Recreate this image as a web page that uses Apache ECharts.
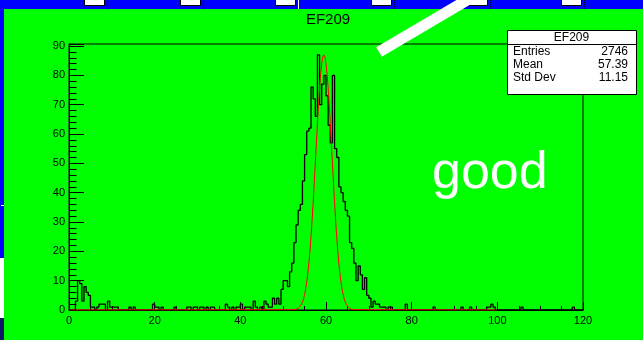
<!DOCTYPE html>
<html>
<head>
<meta charset="utf-8">
<title>EF209</title>
<script src="https://cdn.jsdelivr.net/npm/echarts@6/dist/echarts.min.js"></script>
<style>
  html, body { margin: 0; padding: 0; background: #00ff00; }
  #chart { width: 643px; height: 340px; }
</style>
</head>
<body>
<div id="chart"></div>
<script>
// Histogram EF209: 240 bins of width 0.5 from 0 to 120
const histTitle = 'EF209';
const binLow = 0;
const binWidth = 0.5;
const binCounts = [
  0, 0, 0, 3, 10, 9, 3, 8, 6, 5,   1, 1, 0, 1, 2, 2, 2, 0, 3, 1,
  1, 1, 1, 0, 0, 0, 0, 0, 1, 0,    1, 0, 0, 0, 0, 0, 0, 0, 0, 2,
  1, 1, 0, 1, 0, 0, 0, 0, 0, 1,    0, 0, 0, 0, 0, 1, 1, 0, 1, 1,
  0, 1, 1, 0, 1, 0, 1, 1, 0, 0,    0, 0, 0, 2, 1, 0, 1, 0, 1, 1,
  2, 0, 1, 1, 1, 0, 3, 1, 0, 1,    0, 3, 2, 1, 1, 4, 2, 4, 2, 7,
  10, 10, 8, 13, 16, 23, 29, 34, 36, 44,   53, 61, 62, 76, 72, 66, 87, 70, 77, 80,
  73, 63, 57, 80, 55, 52, 42, 40, 37, 34,  32, 23, 21, 16, 10, 15, 12, 7, 11, 5,
  4, 1, 3, 2, 2, 1, 1, 1, 0, 1,    1, 0, 0, 0, 0, 0, 0, 2, 0, 0,
  0, 0, 0, 0, 0, 0, 0, 0, 0, 0,    1, 0, 0, 0, 0, 0, 0, 0, 0, 0,
  0, 0, 0, 1, 0, 0, 0, 1, 0, 0,    0, 0, 0, 0, 0, 1, 1, 2, 1, 0,
  0, 0, 0, 0, 0, 0, 0, 0, 0, 0,    0, 1, 0, 0, 0, 0, 0, 0, 0, 0,
  0, 0, 0, 0, 0, 0, 0, 0, 0, 0,    0, 0, 0, 0, 0, 1, 0, 0, 0, 0
];

// Gaussian fit, sampled (drawn over 0..100)
const fitX = [0, 52.5, 53, 53.5, 54, 54.5,
  54.75, 55, 55.25, 55.5, 55.75, 56, 56.25, 56.5, 56.75, 57,
  57.25, 57.5, 57.75, 58, 58.25, 58.5, 58.75, 59, 59.25, 59.5,
  59.75, 60, 60.25, 60.5, 60.75, 61, 61.25, 61.5, 61.75, 62,
  62.25, 62.5, 62.75, 63, 63.25, 63.5, 63.75, 64, 64.25,
  64.5, 65, 65.5, 66, 66.5, 100];
const fitY = [0, 0.1, 0.25, 0.6, 1.3, 2.7,
  3.8, 5.3, 7.1, 9.5, 12.4, 15.9, 20.1, 25.0, 30.5, 36.6,
  43.2, 50.0, 56.9, 63.7, 70.1, 75.8, 80.5, 84.0, 86.2, 87.0,
  86.2, 84.0, 80.5, 75.8, 70.1, 63.7, 56.9, 50.0, 43.2, 36.6,
  30.5, 25.0, 20.1, 15.9, 12.4, 9.5, 7.1, 5.3, 3.8,
  2.7, 1.3, 0.6, 0.25, 0.1, 0];

// Statistics box
const statLabels = ['Entries', 'Mean', 'Std Dev'];
const statValues = ['2746', '57.39', '11.15'];

// Axis ranges
const xMin = 0, xMax = 120, xStep = 20;
const yMin = 0, yMax = 90.7, yStep = 10;

const overlayText = 'good';

// Step outline points: left edge of each bin, plus closing right edge
const histPoints = binCounts.map((c, i) => [binLow + i * binWidth, c]);
histPoints.push([binLow + binCounts.length * binWidth, binCounts[binCounts.length - 1]]);

const fitPoints = fitX.map((x, i) => [x, fitY[i]]);

const FONT = '"Liberation Sans", Arial, Helvetica, sans-serif';

// Decorations of the canvas around the pad
const topMarkerX = [84, 180, 275, 371, 467, 561];
const graphics = [];
graphics.push({ type: 'rect', z: 50, shape: { x: 0, y: 0, width: 643, height: 9 }, style: { fill: '#0000ff' } });
graphics.push({ type: 'rect', z: 50, shape: { x: 0, y: 0, width: 4, height: 258 }, style: { fill: '#0000ff' } });
graphics.push({ type: 'rect', z: 50, shape: { x: 0, y: 258, width: 4, height: 60 }, style: { fill: '#ffffff' } });
graphics.push({ type: 'rect', z: 50, shape: { x: 0, y: 318, width: 4, height: 22 }, style: { fill: '#0b1a66' } });
graphics.push({ type: 'rect', z: 51, shape: { x: 1, y: 205, width: 3, height: 1 }, style: { fill: '#ffffff' } });
topMarkerX.forEach((x, k) => {
  graphics.push({ type: 'rect', z: 51, shape: { x: x + 0.5, y: -1, width: 20, height: 6.5 },
    style: { fill: '#ffffff', stroke: '#000000', lineWidth: 1 } });
  graphics.push({ type: 'line', z: 51, shape: { x1: x + 23.5, y1: 0, x2: x + 23.5, y2: 9 },
    style: { stroke: k === 2 ? '#ffffff' : '#000000', lineWidth: 1, lineDash: k === 2 ? null : [1, 1] } });
});
// White diagonal stroke across the top of the pad
graphics.push({ type: 'line', z: 60, shape: { x1: 379, y1: 52, x2: 474, y2: -4 },
  style: { stroke: '#ffffff', lineWidth: 11, lineCap: 'butt' } });
// Title
graphics.push({ type: 'text', z: 60, x: 328, y: 20,
  style: { text: histTitle, fill: '#000000', font: '15px ' + FONT, align: 'center', verticalAlign: 'middle', textAlign: 'center', textVerticalAlign: 'middle' } });
// Stats box
const box = { x: 507, y: 30, w: 129, h: 64 };
graphics.push({ type: 'rect', z: 70, shape: { x: box.x + 0.5, y: box.y + 0.5, width: box.w, height: box.h },
  style: { fill: '#ffffff', stroke: '#000000', lineWidth: 1 } });
graphics.push({ type: 'line', z: 71, shape: { x1: box.x, y1: 44.5, x2: box.x + box.w, y2: 44.5 },
  style: { stroke: '#000000', lineWidth: 1 } });
graphics.push({ type: 'text', z: 72, x: box.x + box.w / 2, y: 37.5,
  style: { text: histTitle, fill: '#000000', font: '12px ' + FONT, align: 'center', verticalAlign: 'middle', textAlign: 'center', textVerticalAlign: 'middle' } });
statLabels.forEach((lab, k) => {
  const yy = 52 + k * 12.8;
  graphics.push({ type: 'text', z: 72, x: 513, y: yy,
    style: { text: lab, fill: '#000000', font: '12px ' + FONT, align: 'left', verticalAlign: 'middle', textAlign: 'left', textVerticalAlign: 'middle' } });
  graphics.push({ type: 'text', z: 72, x: 628, y: yy,
    style: { text: statValues[k], fill: '#000000', font: '12px ' + FONT, align: 'right', verticalAlign: 'middle', textAlign: 'right', textVerticalAlign: 'middle' } });
});
// Overlay label
graphics.push({ type: 'text', z: 60, x: 432, y: 174,
  style: { text: overlayText, fill: '#ffffff', font: '52px ' + FONT, align: 'left', verticalAlign: 'middle', textAlign: 'left', textVerticalAlign: 'middle' } });

const chart = echarts.init(document.getElementById('chart'), null, { renderer: 'canvas' });
chart.setOption({
  backgroundColor: '#00ff00',
  animation: false,
  textStyle: { fontFamily: FONT },
  grid: { left: 69, top: 44, width: 514, height: 266, show: true, borderColor: '#000000', borderWidth: 1, backgroundColor: 'transparent' },
  xAxis: {
    type: 'value', min: xMin, max: xMax, interval: xStep,
    axisLine: { show: true, lineStyle: { color: '#000000', width: 1 } },
    axisTick: { show: true, inside: true, length: 8, lineStyle: { color: '#000000' } },
    minorTick: { show: true, splitNumber: 4, length: 4, lineStyle: { color: '#000000' } },
    splitLine: { show: false },
    axisLabel: { color: '#000000', fontSize: 11, margin: 5, fontFamily: FONT }
  },
  yAxis: [
    {
      type: 'value', min: yMin, max: yMax, interval: yStep,
      axisLine: { show: true, lineStyle: { color: '#000000', width: 1 } },
      axisTick: { show: true, inside: true, length: 15, lineStyle: { color: '#000000' } },
      splitLine: { show: false },
      axisLabel: { color: '#000000', fontSize: 11, margin: 4, fontFamily: FONT,
        formatter: v => (v % yStep === 0 ? String(v) : '') }
    },
    {
      type: 'value', min: yMin, max: yMax, interval: 2, position: 'left',
      axisLine: { show: false },
      axisTick: { show: true, inside: true, length: 7.5, lineStyle: { color: '#000000' } },
      splitLine: { show: false },
      axisLabel: { show: false }
    }
  ],
  series: [
    {
      name: histTitle, type: 'line', step: 'end', data: histPoints,
      showSymbol: false, symbol: 'none', z: 3,
      lineStyle: { color: '#000000', width: 1.3 }
    },
    {
      name: 'fit', type: 'line', data: fitPoints, smooth: false,
      showSymbol: false, symbol: 'none', z: 4,
      lineStyle: { color: '#ff0000', width: 1 }
    }
  ],
  graphic: graphics
});
</script>
</body>
</html>
